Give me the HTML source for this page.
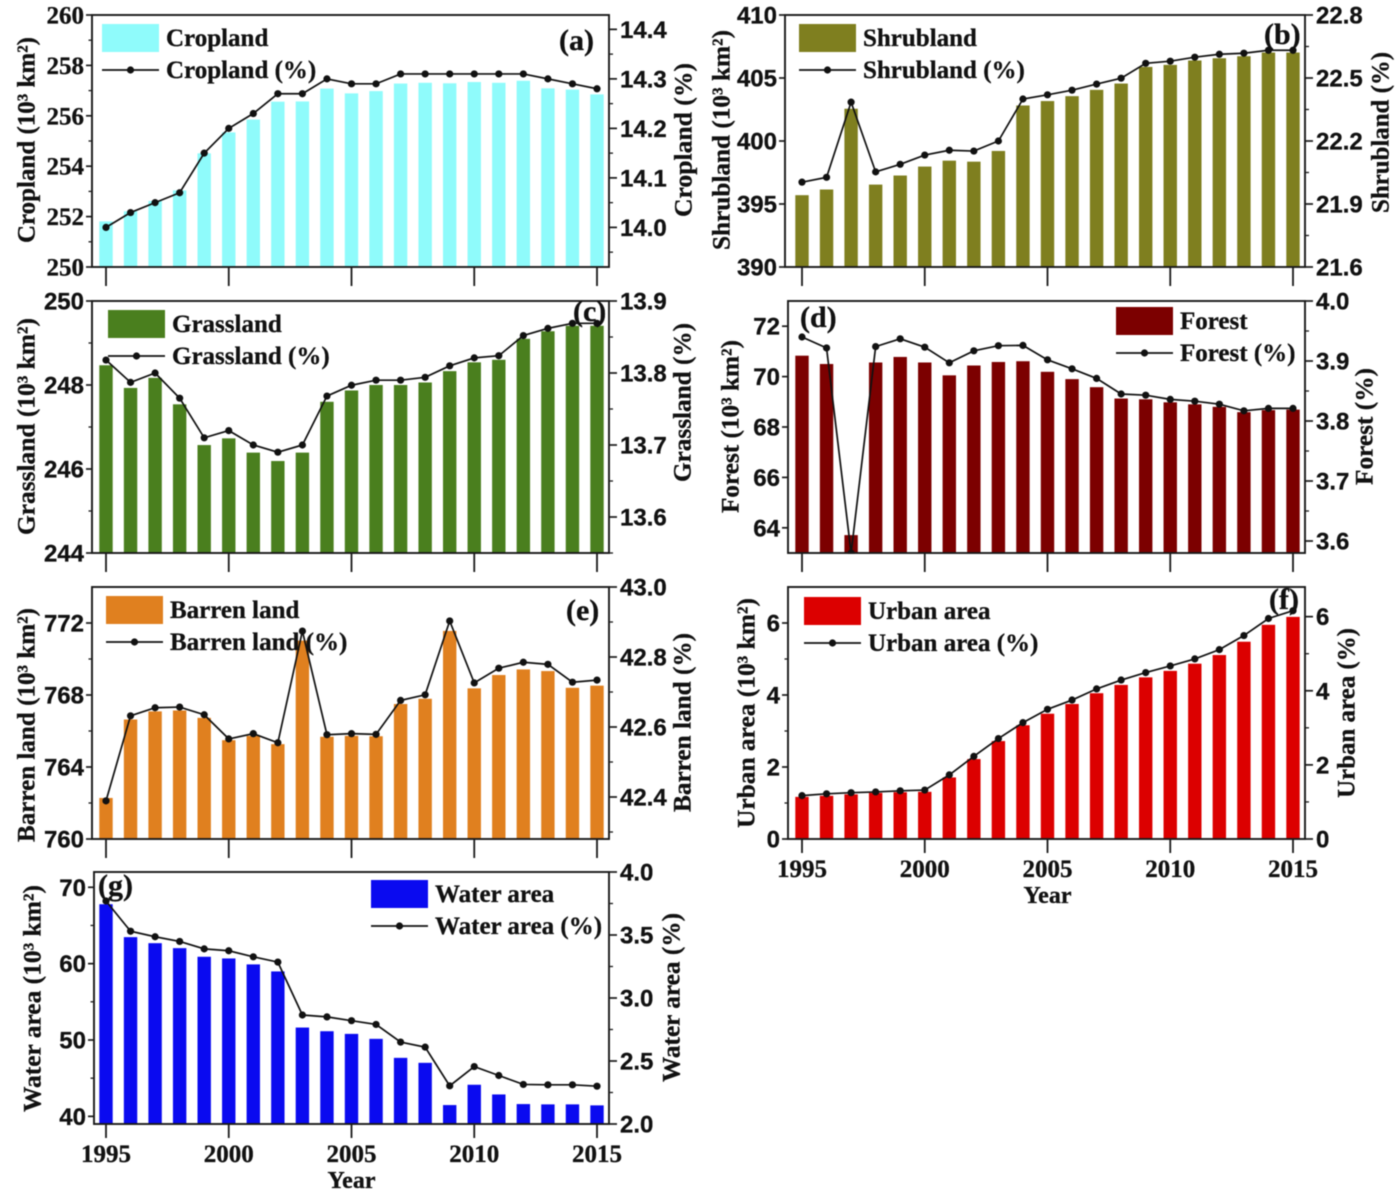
<!DOCTYPE html>
<html lang="en">
<head>
<meta charset="utf-8">
<title>Land cover area and share, 1995-2015</title>
<style>
html,body{margin:0;padding:0;background:#fff;}
svg{display:block;filter:blur(.55px);}
text{fill:#111;font-weight:bold;stroke:#111;stroke-width:.3px;}
.serif{font-family:"Liberation Serif",serif;}
.sans{font-family:"Liberation Sans",sans-serif;}
</style>
</head>
<body>
<svg id="chart" xmlns="http://www.w3.org/2000/svg" width="1400" height="1193" viewBox="0 0 1400 1193"></svg>
<script>
const years = [1995,1996,1997,1998,1999,2000,2001,2002,2003,2004,2005,2006,2007,2008,2009,2010,2011,2012,2013,2014,2015];
const yearTicks = [1995,2000,2005,2010,2015];

const croplandArea = [251.81,252.21,252.62,253.04,254.51,255.34,255.85,256.56,256.57,257.08,256.89,256.98,257.28,257.31,257.29,257.34,257.31,257.39,257.09,257.04,256.85];
const croplandPct = [14.00,14.03,14.05,14.07,14.15,14.20,14.23,14.27,14.27,14.30,14.29,14.29,14.31,14.31,14.31,14.31,14.31,14.31,14.30,14.29,14.28];
const croplandLeftTicks = [250,252,254,256,258,260];
const croplandRightTicks = [14.0,14.1,14.2,14.3,14.4];

const shrublandArea = [395.7,396.15,402.56,396.54,397.26,397.97,398.44,398.36,399.21,402.82,403.17,403.56,404.06,404.56,405.88,406.04,406.39,406.57,406.73,407.02,407.02];
const shrublandPct = [22.004,22.027,22.385,22.053,22.089,22.133,22.156,22.152,22.2,22.4,22.42,22.442,22.471,22.499,22.57,22.58,22.599,22.613,22.618,22.632,22.632];
const shrublandLeftTicks = [390,395,400,405,410];
const shrublandRightTicks = [21.6,21.9,22.2,22.5,22.8];

const grasslandArea = [248.47,247.93,248.17,247.54,246.57,246.73,246.39,246.19,246.39,247.6,247.87,248,248,248.06,248.33,248.54,248.6,249.1,249.28,249.41,249.41];
const grasslandPct = [13.818,13.787,13.80,13.765,13.71,13.72,13.70,13.69,13.70,13.768,13.783,13.79,13.79,13.794,13.81,13.821,13.824,13.852,13.862,13.869,13.869];
const grasslandLeftTicks = [244,246,248,250];
const grasslandRightTicks = [13.6,13.7,13.8,13.9];

const forestArea = [70.83,70.5,63.71,70.56,70.78,70.56,70.05,70.44,70.58,70.61,70.19,69.9,69.58,69.13,69.1,68.98,68.9,68.8,68.59,68.67,68.69];
const forestPct = [3.94,3.9217,3.58,3.924,3.937,3.923,3.897,3.917,3.9255,3.926,3.902,3.887,3.871,3.845,3.843,3.836,3.833,3.828,3.817,3.821,3.821];
const forestLeftTicks = [64,66,68,70,72];
const forestRightTicks = [3.6,3.7,3.8,3.9,4.0];

const barrenArea = [762.28,766.64,767.09,767.14,766.73,765.49,765.73,765.27,771.02,765.68,765.73,765.71,767.5,767.79,771.56,768.37,769.11,769.42,769.33,768.4,768.52];
const barrenPct = [42.389,42.632,42.655,42.657,42.635,42.566,42.581,42.555,42.874,42.578,42.581,42.579,42.676,42.692,42.903,42.726,42.768,42.785,42.779,42.728,42.734];
const barrenLeftTicks = [760,764,768,772];
const barrenRightTicks = [42.4,42.6,42.8,43.0];

const urbanArea = [1.17,1.2,1.24,1.28,1.3,1.31,1.71,2.22,2.72,3.16,3.48,3.75,4.05,4.28,4.49,4.67,4.87,5.11,5.48,5.95,6.17];
const urbanPct = [1.17,1.22,1.25,1.27,1.30,1.32,1.73,2.23,2.71,3.14,3.50,3.75,4.05,4.29,4.49,4.67,4.86,5.11,5.49,5.95,6.16];
const urbanLeftTicks = [0,2,4,6];
const urbanRightTicks = [0,2,4,6];

const waterArea = [67.78,63.47,62.68,62.03,60.9,60.68,59.9,58.98,51.63,51.15,50.8,50.15,47.66,47.01,41.48,44.14,42.87,41.61,41.57,41.57,41.44];
const waterPct = [3.77,3.53,3.486,3.449,3.39,3.375,3.327,3.285,2.865,2.85,2.82,2.79,2.65,2.61,2.303,2.456,2.385,2.314,2.311,2.311,2.30];
const waterLeftTicks = [40,50,60,70];
const waterRightTicks = [2.0,2.5,3.0,3.5,4.0];

const SVGNS = 'http://www.w3.org/2000/svg';
const root = document.getElementById('chart');

function mk(parent, tag, attrs, txt) {
  const el = document.createElementNS(SVGNS, tag);
  for (const k in attrs) el.setAttribute(k, attrs[k]);
  if (txt !== undefined) el.textContent = txt;
  parent.appendChild(el);
  return el;
}

function drawPanel(p) {
  const g = mk(root, 'g', {});
  
  

  const x = yr => p.x1995 + (yr - 1995) * (p.x2015 - p.x1995) / 20;
  const yL = v => p.bottom - (v - p.leftDomain[0]) / (p.leftDomain[1] - p.leftDomain[0]) * (p.bottom - p.top);
  const yR = v => p.bottom - (v - p.rightDomain[0]) / (p.rightDomain[1] - p.rightDomain[0]) * (p.bottom - p.top);

  const clip = mk(g, 'clipPath', {id: 'clip-' + p.key});
  mk(clip, 'rect', {x: p.left, y: p.top - 2, width: p.right - p.left, height: p.bottom - p.top + 3});

  // bars
  p.area.forEach((v, i) => {
    const bar = mk(g, 'rect', {x: x(years[i]) - 6.7, y: yL(v), width: 13.4, height: p.bottom - yL(v), fill: p.color});
    
    
  });

  // line
  const pts = p.pct.map((v, i) => x(years[i]) + ',' + yR(v)).join(' ');
  const line = mk(g, 'polyline', {points: pts, fill: 'none', stroke: '#111', 'stroke-width': 1.7, 'clip-path': 'url(#clip-' + p.key + ')'});
  
  
  p.pct.forEach((v, i) => {
    const dot = mk(g, 'circle', {cx: x(years[i]), cy: yR(v), r: 3.6, fill: '#111', 'clip-path': 'url(#clip-' + p.key + ')'});
    
    
  });

  // frame: top, bottom, left, right
  const frame = mk(g, 'rect', {x: p.left, y: p.top, width: p.right - p.left, height: p.bottom - p.top, fill: 'none', stroke: '#1a1a1a', 'stroke-width': 1.9});
  
  

  // x ticks
  yearTicks.forEach(yr => {
    const t = mk(g, 'line', {x1: x(yr), x2: x(yr), y1: p.bottom, y2: p.bottom + p.xTickLen, stroke: '#1a1a1a', 'stroke-width': 1.8});
    
    
    if (p.showX) {
      const l = mk(g, 'text', {x: x(yr), y: p.bottom + 38, 'text-anchor': 'middle', 'font-size': 25, class: 'serif'}, yr);
      
      
    }
  });
  if (p.showX) {
    const xt = mk(g, 'text', {x: (p.x1995 + p.x2015) / 2, y: p.bottom + 64, 'text-anchor': 'middle', 'font-size': 24, class: 'serif'}, 'Year');
    
    
  }

  // left ticks
  p.leftTicks.forEach(v => {
    const t = mk(g, 'line', {x1: p.left - 6, x2: p.left, y1: yL(v), y2: yL(v), stroke: '#1a1a1a', 'stroke-width': 1.7});
    
    
    const l = mk(g, 'text', {x: p.left - 8, y: yL(v) + 8.5, 'text-anchor': 'end', 'font-size': p.leftSerif ? 25 : 24, class: p.leftSerif ? 'serif' : 'sans'}, v);
    
    
  });
  if (p.leftMinor) {
    p.leftTicks.slice(1).forEach((v, i) => {
      const m = (v + p.leftTicks[i]) / 2;
      const t = mk(g, 'line', {x1: p.left - 3.5, x2: p.left, y1: yL(m), y2: yL(m), stroke: '#1a1a1a', 'stroke-width': 1.3});
      
      
    });
  }

  // right ticks
  p.rightTicks.forEach(v => {
    const t = mk(g, 'line', {x1: p.right, x2: p.right + 8, y1: yR(v), y2: yR(v), stroke: '#1a1a1a', 'stroke-width': 1.7});
    
    
    const l = mk(g, 'text', {x: p.right + 11, y: yR(v) + 8.5, 'text-anchor': 'start', 'font-size': 24, class: 'sans'}, v.toFixed(p.rightDigits));
    
    
  });
  p.rightTicks.slice(1).forEach((v, i) => {
    const m = (v + p.rightTicks[i]) / 2;
    const t = mk(g, 'line', {x1: p.right, x2: p.right + 4, y1: yR(m), y2: yR(m), stroke: '#1a1a1a', 'stroke-width': 1.3});
    
    
  });
  if (p.rightExtraMinor !== undefined) {
    const t = mk(g, 'line', {x1: p.right, x2: p.right + 4, y1: yR(p.rightExtraMinor), y2: yR(p.rightExtraMinor), stroke: '#1a1a1a', 'stroke-width': 1.3});
    
    
  }

  // axis titles
  const lt = (p.leftTitleSpan[0] + p.leftTitleSpan[1]) / 2;
  const leftTitle = mk(g, 'text', {transform: 'translate(' + p.leftTitleX + ',' + lt + ') rotate(-90)', 'text-anchor': 'middle', 'dominant-baseline': 'central', 'font-size': 25, class: 'serif', textLength: p.leftTitleSpan[1] - p.leftTitleSpan[0], lengthAdjust: 'spacingAndGlyphs'}, p.leftTitle);
  
  

  const rt = (p.rightTitleSpan[0] + p.rightTitleSpan[1]) / 2;
  const rightTitle = mk(g, 'text', {transform: 'translate(' + p.rightTitleX + ',' + rt + ') rotate(-90)', 'text-anchor': 'middle', 'dominant-baseline': 'central', 'font-size': 25, class: 'serif', textLength: p.rightTitleSpan[1] - p.rightTitleSpan[0], lengthAdjust: 'spacingAndGlyphs'}, p.rightTitle);
  
  

  // legend
  const sw = mk(g, 'rect', {x: p.legendX, y: p.legendY, width: 57, height: 28, fill: p.color});
  
  
  const lb1 = mk(g, 'text', {x: p.legendX + 64, y: p.legendY + 22, 'font-size': 25, class: 'serif'}, p.name);
  
  
  const lly = p.legendY + 46;
  const ll = mk(g, 'line', {x1: p.legendX, x2: p.legendX + 57, y1: lly, y2: lly, stroke: '#111', 'stroke-width': 1.7});
  
  
  const ld = mk(g, 'circle', {cx: p.legendX + 28.5, cy: lly, r: 3.6, fill: '#111'});
  
  
  const lb2 = mk(g, 'text', {x: p.legendX + 64, y: lly + 8, 'font-size': 25, class: 'serif'}, p.name + ' (%)');
  
  

  // panel letter
  const tag = mk(g, 'text', {x: p.tagX, y: p.tagY, 'font-size': 30, class: 'serif'}, p.tag);
  
  
}

drawPanel({key:'cropland', name:'Cropland', tag:'(a)', color:'#8ffbfb', area:croplandArea, pct:croplandPct,
  left:92, right:609, top:15, bottom:267, x1995:106, x2015:597, xTickLen:19, showX:false,
  leftDomain:[250,260], rightDomain:[13.92,14.429], leftTicks:croplandLeftTicks, rightTicks:croplandRightTicks, rightDigits:1, leftMinor:true, leftSerif:true, rightExtraMinor:13.95,
  leftTitle:'Cropland (10³ km²)', leftTitleX:27, leftTitleSpan:[37,243], rightTitle:'Cropland (%)', rightTitleX:684, rightTitleSpan:[63,217],
  legendX:102, legendY:24, tagX:559, tagY:50});

drawPanel({key:'shrubland', name:'Shrubland', tag:'(b)', color:'#7f7f1f', area:shrublandArea, pct:shrublandPct,
  left:785, right:1305, top:15, bottom:267, x1995:802, x2015:1293, xTickLen:19, showX:false,
  leftDomain:[390,410], rightDomain:[21.6,22.8], leftTicks:shrublandLeftTicks, rightTicks:shrublandRightTicks, rightDigits:1, leftMinor:false, leftSerif:false,
  leftTitle:'Shrubland (10³ km²)', leftTitleX:722, leftTitleSpan:[30,250], rightTitle:'Shrubland (%)', rightTitleX:1381, rightTitleSpan:[52,213],
  legendX:799, legendY:24, tagX:1264, tagY:44});

drawPanel({key:'grassland', name:'Grassland', tag:'(c)', color:'#4a7f1e', area:grasslandArea, pct:grasslandPct,
  left:92, right:609, top:301, bottom:553, x1995:106, x2015:597, xTickLen:19, showX:false,
  leftDomain:[244,250], rightDomain:[13.55,13.90], leftTicks:grasslandLeftTicks, rightTicks:grasslandRightTicks, rightDigits:1, leftMinor:true, leftSerif:false, rightExtraMinor:13.55,
  leftTitle:'Grassland (10³ km²)', leftTitleX:27, leftTitleSpan:[318,535], rightTitle:'Grassland (%)', rightTitleX:683, rightTitleSpan:[323,482],
  legendX:108, legendY:310, tagX:573, tagY:321});

drawPanel({key:'forest', name:'Forest', tag:'(d)', color:'#7c0000', area:forestArea, pct:forestPct,
  left:788, right:1305, top:301, bottom:553, x1995:802, x2015:1293, xTickLen:19, showX:false,
  leftDomain:[63,73], rightDomain:[3.58,4.0], leftTicks:forestLeftTicks, rightTicks:forestRightTicks, rightDigits:1, leftMinor:false, leftSerif:false,
  leftTitle:'Forest (10³ km²)', leftTitleX:731, leftTitleSpan:[340,513], rightTitle:'Forest (%)', rightTitleX:1365, rightTitleSpan:[368,485],
  legendX:1116, legendY:307, tagX:800, tagY:327});

drawPanel({key:'barren', name:'Barren land', tag:'(e)', color:'#e0801f', area:barrenArea, pct:barrenPct,
  left:92, right:609, top:587, bottom:839, x1995:106, x2015:597, xTickLen:19, showX:false,
  leftDomain:[760,774], rightDomain:[42.28,43.0], leftTicks:barrenLeftTicks, rightTicks:barrenRightTicks, rightDigits:1, leftMinor:true, leftSerif:false, rightExtraMinor:42.3,
  leftTitle:'Barren land (10³ km²)', leftTitleX:27, leftTitleSpan:[608,842], rightTitle:'Barren land (%)', rightTitleX:683, rightTitleSpan:[633,812],
  legendX:106, legendY:596, tagX:566, tagY:620});

drawPanel({key:'urban', name:'Urban area', tag:'(f)', color:'#dc0000', area:urbanArea, pct:urbanPct,
  left:788, right:1305, top:587, bottom:839, x1995:802, x2015:1293, xTickLen:14, showX:true,
  leftDomain:[0,7], rightDomain:[0,6.8], leftTicks:urbanLeftTicks, rightTicks:urbanRightTicks, rightDigits:0, leftMinor:true, leftSerif:false,
  leftTitle:'Urban area (10³ km²)', leftTitleX:747, leftTitleSpan:[598,828], rightTitle:'Urban area (%)', rightTitleX:1347, rightTitleSpan:[628,798],
  legendX:804, legendY:597, tagX:1269, tagY:609});

drawPanel({key:'water', name:'Water area', tag:'(g)', color:'#0a0af0', area:waterArea, pct:waterPct,
  left:94, right:609, top:872, bottom:1124, x1995:106, x2015:597, xTickLen:14, showX:true,
  leftDomain:[39,72], rightDomain:[2,4], leftTicks:waterLeftTicks, rightTicks:waterRightTicks, rightDigits:1, leftMinor:true, leftSerif:false,
  leftTitle:'Water area (10³ km²)', leftTitleX:33, leftTitleSpan:[885,1112], rightTitle:'Water area (%)', rightTitleX:672, rightTitleSpan:[913,1082],
  legendX:371, legendY:880, tagX:98, tagY:895});
</script>
</body>
</html>
